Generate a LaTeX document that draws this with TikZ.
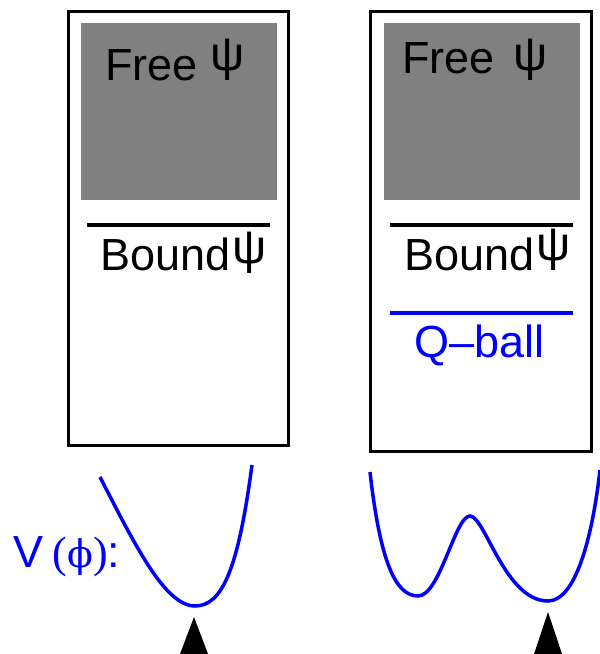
\documentclass[tikz,border=0pt]{standalone}
\usepackage{fontspec}
\setmainfont{Liberation Sans}
\newfontfamily\grkserif{DejaVu Serif}
\newfontfamily\lserif{Liberation Serif}
\begin{document}
\begin{tikzpicture}[x=1pt,y=-1pt,line width=3.5pt,
  txt/.style={inner sep=0pt,anchor=base west,font=\fontsize{45}{54}\selectfont},
  psi/.style={inner sep=0pt,font=\fontsize{48}{54}\selectfont}]
\useasboundingbox (0,0) rectangle (600,654);

\coordinate (A) at (68.5,11.5);
\coordinate (B) at (288.5,445.5);
\coordinate (C) at (370.5,11.5);
\coordinate (D) at (591.5,451.5);

\begin{scope}
  \fill[black!50] (81,23) rectangle (277,200);
  \fill[black!50] (384,23) rectangle (580,200);
\end{scope}

\draw (A) rectangle (B);
\draw (C) rectangle (D);

\draw (87,225) -- (270,225);
\draw (390,225) -- (573,225);
\draw[blue] (390,313) -- (573,313);

\node (free1) at (103.5,80) [txt] {Free};
\node (psi1) at (228,60) [psi] {ψ};
\node (free2) at (400.5,73) [txt] {Free};
\node (psi2) at (531,60) [psi] {ψ};

\node (bound1) at (98.5,270) [txt] {Bound};
\node (psi3) at (250,253) [psi] {ψ};
\node (bound2) at (402.5,270) [txt] {Bound};
\node (psi4) at (554,250) [psi] {ψ};

\node (qball) at (413,357) [txt,text=blue] {Q–ball};
\node (pot) at (12,567) [txt,text=blue] {V\hspace{9pt}{\lserif\fontsize{44}{50}\selectfont(}{\grkserif\fontsize{38}{44}\selectfont ϕ}{\lserif\fontsize{44}{50}\selectfont)}:};

% potentials
\draw[blue] (100,477) .. controls (135,545) and (165,606) .. (195,606)
  .. controls (222,606) and (238,570) .. (252,465);
\draw[blue] (370,472) .. controls (380,560) and (395,596) .. (418,596)
  .. controls (440,596) and (455,516) .. (470,516)
  .. controls (485,516) and (505,601) .. (548,601)
  .. controls (575,601) and (592,540) .. (600,470);

\foreach \x/\y in {194/617,548/612}
  \fill (\x,\y) -- (\x-14,654) -- (\x+14,654) -- cycle;
\end{tikzpicture}
\end{document}
